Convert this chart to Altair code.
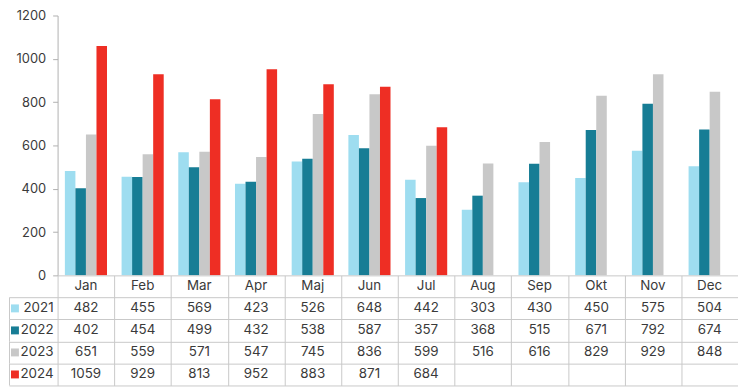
import altair as alt
import pandas as pd

months = ["Jan", "Feb", "Mar", "Apr", "Maj", "Jun", "Jul", "Aug", "Sep", "Okt", "Nov", "Dec"]
years = ["2021", "2022", "2023", "2024"]
v2021 = [482, 455, 569, 423, 526, 648, 442, 303, 430, 450, 575, 504]
v2022 = [402, 454, 499, 432, 538, 587, 357, 368, 515, 671, 792, 674]
v2023 = [651, 559, 571, 547, 745, 836, 599, 516, 616, 829, 929, 848]
v2024 = [1059, 929, 813, 952, 883, 871, 684]
colors = ["#9EDDF0", "#177D95", "#C8C8C8", "#EE2E24"]
y_ticks = [0, 200, 400, 600, 800, 1000, 1200]

series = {"2021": v2021, "2022": v2022, "2023": v2023, "2024": v2024}

bar_rows = []
for yr, vals in series.items():
    for m, v in zip(months, vals):
        bar_rows.append({"month": m, "year": yr, "value": v})
bar_df = pd.DataFrame(bar_rows)

rows = ["hdr"] + years
table_rows = [{"row": "hdr", "month": m, "label": m} for m in months]
for yr, vals in series.items():
    for i, m in enumerate(months):
        table_rows.append({"row": yr, "month": m, "label": str(vals[i]) if i < len(vals) else ""})
table_df = pd.DataFrame(table_rows)
year_df = pd.DataFrame({"row": years})

FONT = "Inter"
TXT = "#3a3a3a"
LINE = "#c8c8c8"

color_scale = alt.Scale(domain=years, range=colors)

bars = alt.Chart(bar_df).mark_bar().encode(
    x=alt.X("month:N", sort=months,
            scale=alt.Scale(domain=months, paddingInner=0.257, paddingOuter=0.1285),
            axis=None),
    xOffset=alt.XOffset("year:N", scale=alt.Scale(domain=years, paddingInner=0, paddingOuter=0)),
    y=alt.Y("value:Q", scale=alt.Scale(domain=[0, 1200], nice=False),
            axis=alt.Axis(values=y_ticks, format="d", title=None, grid=False, tickSize=5,
                          domainColor="#b0b0b0", tickColor="#b0b0b0",
                          labelFontSize=13, labelColor=TXT, labelFont=FONT,
                          labelPadding=7)),
    color=alt.Color("year:N", scale=color_scale, legend=None),
).properties(width=686, height=262)

row_scale = alt.Scale(domain=rows, paddingInner=0, paddingOuter=0)
y_tab = alt.Y("row:N", scale=row_scale,
              axis=alt.Axis(grid=True, tickBand="extent", labels=False, ticks=True,
                            tickSize=49, tickColor=LINE,
                            tickOpacity={"condition": {"test": "datum.extra", "value": 0}, "value": 1},
                            domain=False, title=None, gridColor=LINE))

cells = alt.Chart(table_df).mark_text(font=FONT, fontSize=13.5, color=TXT).encode(
    x=alt.X("month:N", sort=months,
            scale=alt.Scale(domain=months, paddingInner=0, paddingOuter=0),
            axis=alt.Axis(grid=True, tickBand="extent", labels=False, ticks=False,
                          domain=False, title=None, gridColor=LINE, orient="top")),
    y=y_tab,
    text="label:N",
)

left_border = alt.Chart(year_df).mark_rect(fill=LINE).encode(
    y=y_tab,
    x=alt.value(-49), x2=alt.value(-48),
)

swatch = alt.Chart(year_df).mark_square(size=64, opacity=1).encode(
    y=y_tab,
    x=alt.value(-43),
    color=alt.Color("row:N", scale=color_scale, legend=None),
)

year_lbl = alt.Chart(year_df).mark_text(font=FONT, fontSize=13.5, color=TXT, align="right").encode(
    y=y_tab,
    x=alt.value(-4),
    text="row:N",
)

table = alt.layer(cells, left_border, swatch, year_lbl).properties(width=686, height=111)

chart = alt.vconcat(bars, table, spacing=0, bounds="flush").configure_view(stroke=None).properties(
    padding={"left": 0, "top": 0, "right": 0, "bottom": 0}
)

chart.save("out.html", embed_options={"renderer": "svg", "actions": False})
